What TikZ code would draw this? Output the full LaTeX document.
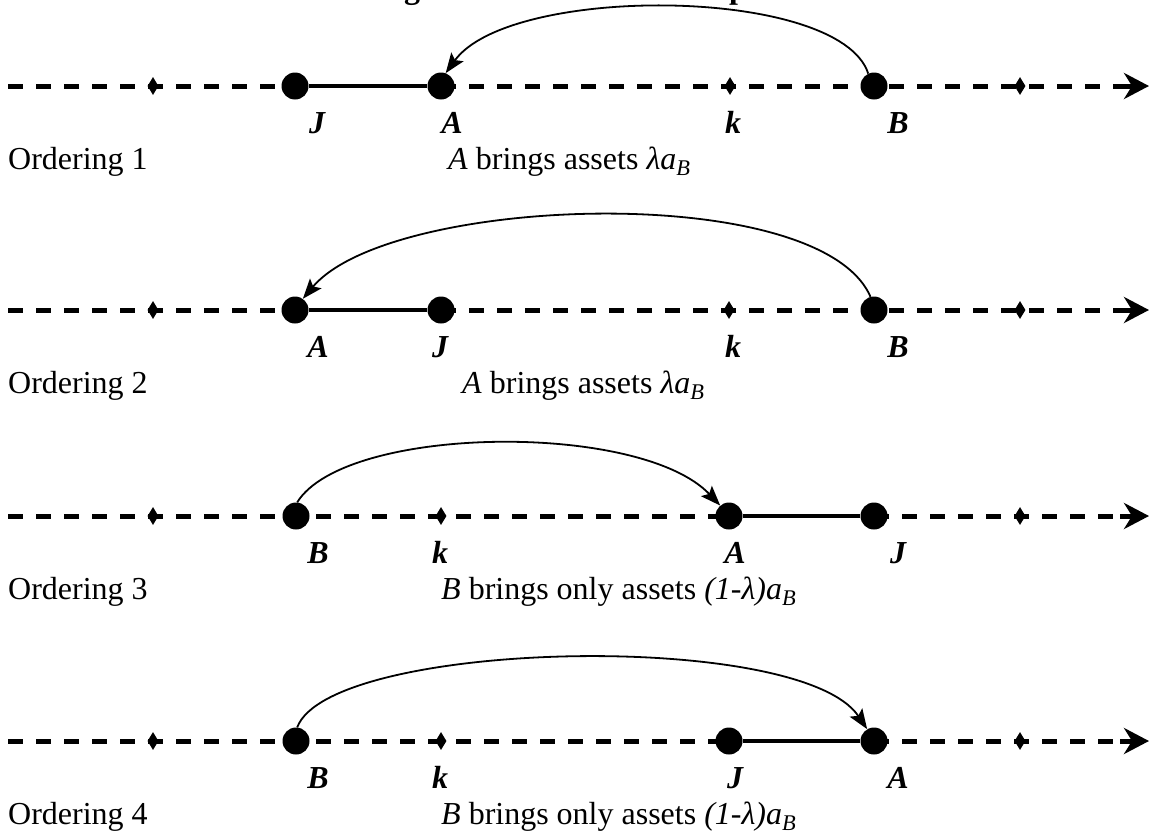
\documentclass[tikz,border=0pt]{standalone}
\usepackage{fontspec}
\setmainfont{Liberation Serif}
\usetikzlibrary{arrows.meta,shapes.geometric}
\tikzset{
  base font/.style={font=\fontsize{32}{38}\selectfont},
  dot/.style={circle, fill=black, draw=none, inner sep=0pt, minimum size=27pt},
  tick/.style={diamond, fill=black, draw=none, inner sep=0pt, minimum width=11pt, minimum height=18pt},
  axis/.style={line width=5pt, dash pattern=on 15pt off 13pt},
  axistip/.style={line width=5pt, -{Stealth[length=25pt,width=26pt,inset=8pt]}},
  seg/.style={line width=4pt},
  jump/.style={line width=1.8pt, -{Stealth[length=20pt,width=15pt,inset=4pt]}},
  lbl/.style={font=\fontsize{32}{38}\selectfont\bfseries\itshape, anchor=base, inner sep=0pt},
  txt/.style={base font, anchor=base west, inner sep=0pt},
  ttl/.style={font=\fontsize{32}{38}\selectfont\bfseries, anchor=base, inner sep=0pt}
}
\begin{document}
\begin{tikzpicture}[x=1pt,y=-1pt]
\useasboundingbox (0,0) rectangle (1154,838);
\begin{scope}
\clip (0,0) rectangle (1154,838);
\node[ttl] (tg) at (412,-2) {g};
\node[ttl] (tp) at (738,-2) {p};
\end{scope}

% ---------- Row 1 ----------
\coordinate (r1s) at (8,86);
\coordinate (r1e) at (1120,86);
\coordinate (r1t) at (1149,86);
\coordinate (r1l) at (295,86);
\coordinate (r1r) at (441,86);
\draw[axis] (r1s) -- (r1l);
\draw[axis] (r1r) -- (r1e);
\draw[axistip] (r1e) -- (r1t);
\node[tick] (r1d1) at (153,86) {};
\node[tick] (r1k) at (730,86) {};
\node[tick] (r1d2) at (1020,86) {};
\node[dot] (r1J) at (295,86) {};
\node[dot] (r1A) at (441,86) {};
\node[dot] (r1B) at (874,86) {};
\draw[seg] (r1J) -- (r1A);
\draw[jump] (r1B.115) .. controls (840,-14) and (510,-16) .. (r1A.70);
\node[lbl] (r1Jl) at (317,133) {J};
\node[lbl] (r1Al) at (452,133) {A};
\node[lbl] (r1kl) at (733,133) {k};
\node[lbl] (r1Bl) at (898,133) {B};
\node[txt] (r1o) at (8,169) {Ordering 1};
\node[txt] (r1x) at (448,169) {\textit{A} brings assets \textit{λa}\textsubscript{\textit{B}}};

% ---------- Row 2 ----------
\coordinate (r2s) at (8,310);
\coordinate (r2e) at (1120,310);
\coordinate (r2t) at (1149,310);
\coordinate (r2l) at (295,310);
\coordinate (r2r) at (441,310);
\draw[axis] (r2s) -- (r2l);
\draw[axis] (r2r) -- (r2e);
\draw[axistip] (r2e) -- (r2t);
\node[tick] (r2d1) at (153,310) {};
\node[tick] (r2k) at (729,310) {};
\node[tick] (r2d2) at (1020,310) {};
\node[dot] (r2A) at (295,310) {};
\node[dot] (r2J) at (441,310) {};
\node[dot] (r2B) at (874,310) {};
\draw[seg] (r2A) -- (r2J);
\draw[jump] (r2B.105) .. controls (820,180) and (390,195) .. (r2A.55);
\node[lbl] (r2Al) at (318,357) {A};
\node[lbl] (r2Jl) at (440,357) {J};
\node[lbl] (r2kl) at (733,357) {k};
\node[lbl] (r2Bl) at (898,357) {B};
\node[txt] (r2o) at (8,393) {Ordering 2};
\node[txt] (r2x) at (462,393) {\textit{A} brings assets \textit{λa}\textsubscript{\textit{B}}};

% ---------- Row 3 ----------
\coordinate (r3s) at (8,516);
\coordinate (r3e) at (1120,516);
\coordinate (r3t) at (1149,516);
\coordinate (r3l) at (729,516);
\coordinate (r3r) at (874,516);
\draw[axis] (r3s) -- (r3l);
\draw[axis] (r3r) -- (r3e);
\draw[axistip] (r3e) -- (r3t);
\node[tick] (r3d1) at (153,516) {};
\node[tick] (r3k) at (441,516) {};
\node[tick] (r3d2) at (1020,516) {};
\node[dot] (r3B) at (296,516) {};
\node[dot] (r3A) at (729,516) {};
\node[dot] (r3J) at (874,516) {};
\draw[seg] (r3A) -- (r3J);
\draw[jump] (r3B.85) .. controls (345,425) and (640,421) .. (r3A.130);
\node[lbl] (r3Bl) at (318,563) {B};
\node[lbl] (r3kl) at (440,563) {k};
\node[lbl] (r3Al) at (735,563) {A};
\node[lbl] (r3Jl) at (898,563) {J};
\node[txt] (r3o) at (8,599) {Ordering 3};
\node[txt] (r3x) at (441,599) {\textit{B} brings only assets \textit{(1-λ)a}\textsubscript{\textit{B}}};

% ---------- Row 4 ----------
\coordinate (r4s) at (8,741);
\coordinate (r4e) at (1120,741);
\coordinate (r4t) at (1149,741);
\coordinate (r4l) at (729,741);
\coordinate (r4r) at (874,741);
\draw[axis] (r4s) -- (r4l);
\draw[axis] (r4r) -- (r4e);
\draw[axistip] (r4e) -- (r4t);
\node[tick] (r4d1) at (153,741) {};
\node[tick] (r4k) at (441,741) {};
\node[tick] (r4d2) at (1020,741) {};
\node[dot] (r4B) at (296,741) {};
\node[dot] (r4J) at (729,741) {};
\node[dot] (r4A) at (874,741) {};
\draw[seg] (r4J) -- (r4A);
\draw[jump] (r4B.85) .. controls (330,640) and (800,629) .. (r4A.120);
\node[lbl] (r4Bl) at (318,788) {B};
\node[lbl] (r4kl) at (440,788) {k};
\node[lbl] (r4Jl) at (735,788) {J};
\node[lbl] (r4Al) at (898,788) {A};
\node[txt] (r4o) at (8,824) {Ordering 4};
\node[txt] (r4x) at (441,824) {\textit{B} brings only assets \textit{(1-λ)a}\textsubscript{\textit{B}}};
\end{tikzpicture}
\end{document}
